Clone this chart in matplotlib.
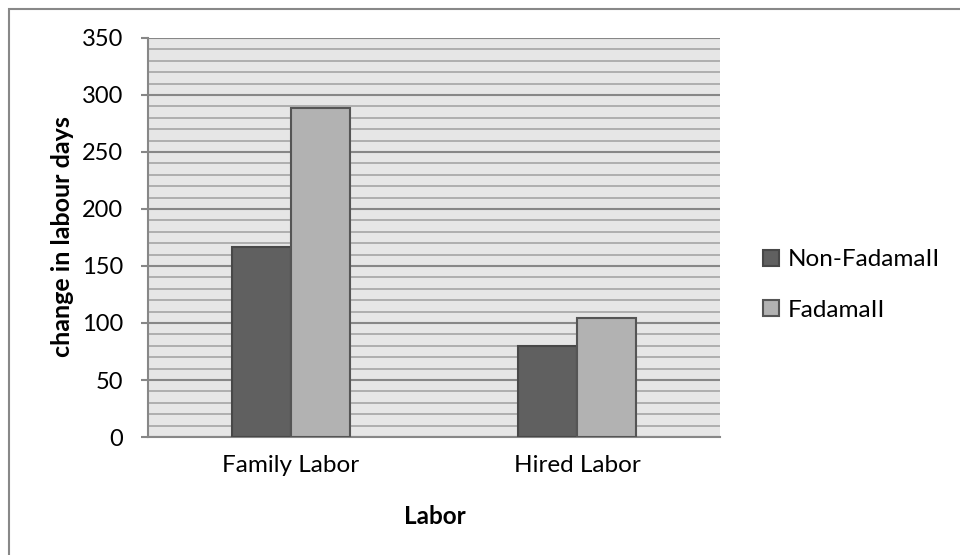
import numpy as np
import matplotlib
matplotlib.use("Agg")
from matplotlib import pyplot as plt
from matplotlib.patches import Rectangle
from matplotlib.ticker import MultipleLocator

categories = ["Family Labor", "Hired Labor"]
series_names = ["Non-FadamaII", "FadamaII"]
non_fadama = [167, 80]
fadama = [289, 104]

plt.rcParams['font.family'] = ['Lato', 'DejaVu Sans']

dark = "#606060"
light = "#b2b2b2"
edge = "#484848"
fs = 17.5

fig = plt.figure(figsize=(9.6, 5.55), dpi=100)
ax = fig.add_axes([0.154, 0.2126, 0.596, 0.719])

x = np.arange(len(categories))
w = 0.206
ax.bar(x - w / 2, non_fadama, w, color=dark, edgecolor=edge, linewidth=1.5,
       label=series_names[0], zorder=3)
ax.bar(x + w / 2, fadama, w, color=light, edgecolor="#555555", linewidth=1.5,
       label=series_names[1], zorder=3)

ax.set_xlim(-0.5, 1.5)
ax.set_ylim(0, 350)
ax.set_facecolor("#e6e6e6")
ax.yaxis.set_major_locator(MultipleLocator(50))
ax.yaxis.set_minor_locator(MultipleLocator(10))
ax.grid(which="major", axis="y", color="#878787", linewidth=1.5, zorder=1)
ax.grid(which="minor", axis="y", color="#aaaaaa", linewidth=1.3, zorder=1)
ax.set_axisbelow(True)

for s in ["top", "right"]:
    ax.spines[s].set_visible(False)
ax.spines["left"].set_color("#878787")
ax.spines["bottom"].set_color("#878787")
ax.spines["left"].set_linewidth(1.5)
ax.spines["bottom"].set_linewidth(1.5)

ax.set_xticks(x)
ax.set_xticklabels(categories)
ax.tick_params(axis="x", length=0, pad=13, labelsize=fs)
ax.tick_params(axis="y", which="major", length=5, width=1.5, color="#878787",
               pad=13, labelsize=17)
ax.tick_params(axis="y", which="minor", length=0)

fig.text(435 / 960, 1 - 517 / 555, "Labor", fontsize=fs, fontweight="bold",
         ha="center", va="center")
fig.text(62 / 960, 1 - 237 / 555, "change in labour days", fontsize=18,
         fontweight="bold", rotation=90, ha="center", va="center")

ax.legend(loc="center left", bbox_to_anchor=(763 / 960, 1 - 285 / 555),
          bbox_transform=fig.transFigure, frameon=False, borderpad=0,
          borderaxespad=0, fontsize=fs, handlelength=0.66, handleheight=0.66,
          handletextpad=0.35, labelspacing=1.2)

fig.patches.append(Rectangle((9 / 960, -0.1), 1.2, 1 - 9 / 555 + 0.1,
                             transform=fig.transFigure, fill=False,
                             edgecolor="#888888", linewidth=1.5))

fig.savefig("out.png", dpi=100)
